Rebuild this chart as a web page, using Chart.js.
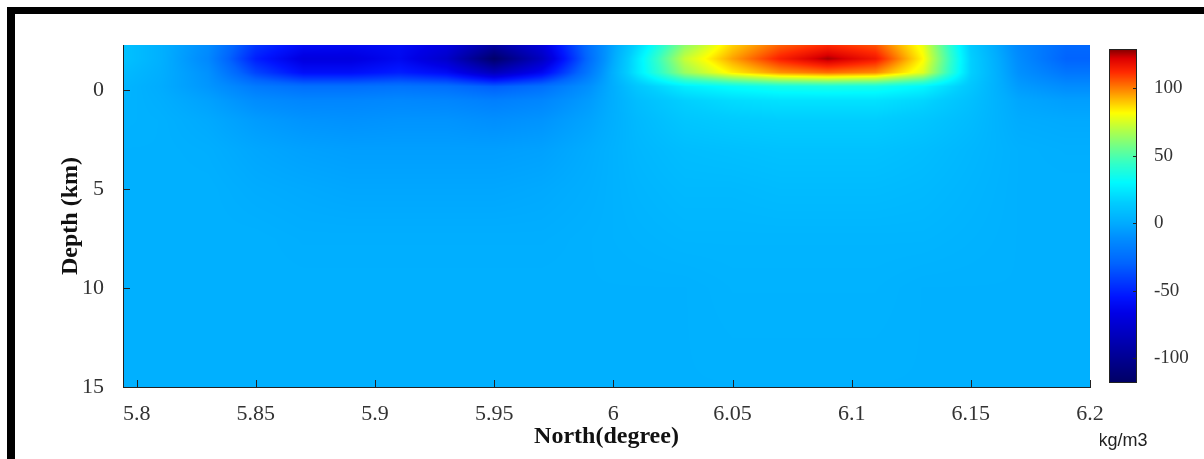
<!DOCTYPE html>
<html>
<head>
<meta charset="utf-8">
<script src="https://cdn.jsdelivr.net/npm/chart.js@4.4.1/dist/chart.umd.min.js"></script>
<style>
  html, body { margin: 0; padding: 0; background: #fff; }
  #wrap { position: relative; width: 1204px; height: 459px; overflow: hidden; }
  #frameTop { position: absolute; left: 7px; top: 7px; width: 1197px; height: 7px; background: #000; }
  #frameLeft { position: absolute; left: 7px; top: 7px; width: 8px; height: 452px; background: #000; }
  #main { position: absolute; left: 0; top: 0; }
  #cbar { position: absolute; left: 1100px; top: 0; }
</style>
</head>
<body>
<div id="wrap">
  <div id="frameTop"></div>
  <div id="frameLeft"></div>
  <canvas id="main" width="1204" height="459"></canvas>
  <canvas id="cbar" width="104" height="459"></canvas>
</div>
<script>
// grid nodes (degree north) and depth rows (km)
const north = [5.79, 5.81, 5.83, 5.85, 5.87, 5.89, 5.91, 5.93, 5.95, 5.97, 5.99,
               6.01, 6.03, 6.05, 6.07, 6.09, 6.11, 6.13, 6.15, 6.17, 6.19, 6.21];
const depth = [-2.3, -1.6, -0.9, -0.2, 0.5, 1.5, 3, 5, 7.5, 10, 15];

// density contrast, kg/m3, one row per depth
const density = [
  [12, 2, -12, -45, -60, -62, -60, -70, -95, -72, -24, 18, 62, 88, 104, 112, 106, 78, 14, -14, -28, -28],
  [12, 2, -14, -52, -70, -70, -62, -78, -116, -82, -26, 24, 72, 95, 114, 126, 116, 82, 16, -12, -30, -30],
  [8, 1, -10, -40, -58, -58, -52, -60, -84, -62, -20, 24, 64, 84, 97, 102, 98, 76, 16, -10, -22, -22],
  [5, 0, -8, -20, -25, -25, -23, -25, -32, -25, -10, 12, 26, 32, 36, 37, 36, 29, 12, -6, -12, -12],
  [4, 1, -4, -12, -15, -15, -14, -15, -18, -15, -6, 8, 16, 20, 22, 22, 22, 18, 9, -2, -5, -5],
  [3, 2, -1, -6, -9, -10, -9, -9, -11, -9, -3, 6, 12, 14, 15, 15, 15, 12, 7, 0, -1, -1],
  [2, 2, 1, -2, -4, -5, -5, -5, -5, -4, 0, 5, 8, 9, 10, 10, 10, 8, 5, 2, 1, 1],
  [2, 2, 2, 0, -1, -2, -2, -2, -2, -1, 1, 4, 6, 6, 7, 7, 7, 6, 4, 2, 2, 2],
  [2, 2, 2, 2, 1, 1, 1, 1, 1, 1, 2, 3, 4, 4, 4, 4, 4, 4, 3, 2, 2, 2],
  [2, 2, 2, 2, 2, 2, 2, 2, 2, 2, 2, 2, 2, 3, 3, 3, 3, 2, 2, 2, 2, 2],
  [2, 2, 2, 2, 2, 2, 2, 2, 2, 2, 2, 2, 2, 2, 2, 2, 2, 2, 2, 2, 2, 2]
];

const xTicks = [5.8, 5.85, 5.9, 5.95, 6, 6.05, 6.1, 6.15, 6.2];
const yTicks = [0, 5, 10, 15];
const cbTicks = [-100, -50, 0, 50, 100];
const cbRange = [-118.5, 128.9];
const unitLabel = 'kg/m3';

// jet-like colour ramp
const stops = [
  [-118.5, 0, 0, 100], [-95, 0, 0, 160], [-67, 0, 0, 230], [-55, 0, 20, 255],
  [-30, 0, 100, 255], [-10, 0, 145, 255], [0, 0, 172, 255], [15, 0, 205, 255],
  [30, 0, 250, 255], [44, 50, 255, 200], [56, 110, 255, 140], [69, 180, 255, 70],
  [81.5, 255, 255, 0], [91, 255, 190, 0], [100, 255, 125, 0], [112, 255, 40, 0],
  [122, 220, 0, 0], [128.9, 128, 0, 0]
];

function jet(v) {
  if (v <= stops[0][0]) return stops[0].slice(1);
  for (let i = 0; i < stops.length - 1; i++) {
    const a = stops[i], b = stops[i + 1];
    if (v <= b[0]) {
      const t = (v - a[0]) / (b[0] - a[0]);
      return [a[1] + (b[1] - a[1]) * t, a[2] + (b[2] - a[2]) * t, a[3] + (b[3] - a[3]) * t];
    }
  }
  return stops[stops.length - 1].slice(1);
}

function findCell(arr, v) {
  if (v <= arr[0]) return [0, 0];
  for (let i = 0; i < arr.length - 1; i++) {
    if (v <= arr[i + 1]) return [i, (v - arr[i]) / (arr[i + 1] - arr[i])];
  }
  return [arr.length - 2, 1];
}

function fieldAt(x, d) {
  const [i, tx] = findCell(north, x);
  const [j, ty] = findCell(depth, d);
  const a = density[j][i], b = density[j][i + 1];
  const c = density[j + 1][i], e = density[j + 1][i + 1];
  return (a * (1 - tx) + b * tx) * (1 - ty) + (c * (1 - tx) + e * tx) * ty;
}

const serif = "'Liberation Serif', 'Times New Roman', serif";

const fieldPlugin = {
  id: 'field',
  beforeDatasetsDraw(chart) {
    const { ctx, chartArea: a, scales: { x, y } } = chart;
    const w = Math.round(a.right - a.left), h = Math.round(a.bottom - a.top);
    const off = document.createElement('canvas');
    off.width = w; off.height = h;
    const octx = off.getContext('2d');
    const img = octx.createImageData(w, h);
    for (let py = 0; py < h; py++) {
      const d = y.getValueForPixel(a.top + py + 0.5);
      for (let px = 0; px < w; px++) {
        const c = jet(fieldAt(x.getValueForPixel(a.left + px + 0.5), d));
        const k = (py * w + px) * 4;
        img.data[k] = c[0]; img.data[k + 1] = c[1]; img.data[k + 2] = c[2]; img.data[k + 3] = 255;
      }
    }
    octx.putImageData(img, 0, 0);
    ctx.drawImage(off, a.left, a.top);
  },
  afterDraw(chart) {
    const { ctx, chartArea: a, scales: { x, y } } = chart;
    ctx.save();
    ctx.strokeStyle = '#222';
    ctx.lineWidth = 1;
    ctx.beginPath();
    yTicks.forEach(v => {
      const py = Math.round(y.getPixelForValue(v)) + 0.5;
      ctx.moveTo(a.left, py); ctx.lineTo(a.left + 7, py);
    });
    xTicks.forEach(v => {
      const px = Math.round(x.getPixelForValue(v)) + 0.5;
      ctx.moveTo(px, a.bottom); ctx.lineTo(px, a.bottom - 7);
    });
    ctx.stroke();
    ctx.restore();
  }
};

new Chart(document.getElementById('main'), {
  type: 'scatter',
  data: { datasets: [] },
  options: {
    responsive: false,
    animation: false,
    devicePixelRatio: 1,
    layout: { padding: { left: 0, top: 45, right: 114, bottom: 0 } },
    plugins: { legend: { display: false }, tooltip: { enabled: false } },
    scales: {
      x: {
        type: 'linear', position: 'bottom', min: 5.79426, max: 6.2,
        grid: { display: false },
        border: { display: true, color: '#222', width: 1, z: 1 },
        afterBuildTicks(s) { s.ticks = xTicks.map(v => ({ value: v })); },
        ticks: {
          font: { family: serif, size: 22 }, color: '#333', padding: 6,
          maxRotation: 0, autoSkip: false,
          callback: v => String(+(+v).toFixed(2))
        },
        title: {
          display: true, text: 'North(degree)',
          font: { family: serif, size: 24, weight: 'bold' }, color: '#111',
          padding: { top: 0, bottom: 8 }
        },
        afterFit(s) { s.height = 72; }
      },
      y: {
        type: 'linear', position: 'left', reverse: true, min: -2.3, max: 15,
        grid: { display: false },
        border: { display: true, color: '#222', width: 1, z: 1 },
        afterBuildTicks(s) { s.ticks = yTicks.map(v => ({ value: v })); },
        ticks: {
          font: { family: serif, size: 22 }, color: '#333', padding: 11,
          callback: v => String(v)
        },
        title: {
          display: true, text: 'Depth (km)',
          font: { family: serif, size: 24, weight: 'bold' }, color: '#111',
          padding: { top: 56, bottom: 0 }
        },
        afterFit(s) { s.width = 123; }
      }
    }
  },
  plugins: [fieldPlugin]
});

const cbarPlugin = {
  id: 'cbarFill',
  beforeDatasetsDraw(chart) {
    const { ctx, chartArea: a, scales: { y } } = chart;
    for (let py = Math.round(a.top); py < Math.round(a.bottom); py++) {
      const c = jet(y.getValueForPixel(py + 0.5));
      ctx.fillStyle = `rgb(${c[0] | 0},${c[1] | 0},${c[2] | 0})`;
      ctx.fillRect(a.left, py, a.right - a.left, 1);
    }
  },
  afterDraw(chart) {
    const { ctx, chartArea: a, scales: { y } } = chart;
    ctx.save();
    ctx.strokeStyle = '#222';
    ctx.lineWidth = 1;
    ctx.strokeRect(Math.round(a.left) + 0.5, Math.round(a.top) + 0.5,
                   Math.round(a.right - a.left) - 1, Math.round(a.bottom - a.top) - 1);
    ctx.beginPath();
    cbTicks.forEach(v => {
      const py = Math.round(y.getPixelForValue(v)) + 0.5;
      ctx.moveTo(a.right, py); ctx.lineTo(a.right - 4, py);
    });
    ctx.stroke();
    // unit label under the colour bar
    ctx.fillStyle = '#222';
    ctx.font = "18px 'Liberation Sans', Arial, sans-serif";
    ctx.textAlign = 'center';
    ctx.textBaseline = 'middle';
    ctx.fillText(unitLabel, (a.left + a.right) / 2, 441);
    ctx.restore();
  }
};

new Chart(document.getElementById('cbar'), {
  type: 'scatter',
  data: { datasets: [] },
  options: {
    responsive: false,
    animation: false,
    devicePixelRatio: 1,
    layout: { padding: { left: 9, top: 49, right: 0, bottom: 0 } },
    plugins: { legend: { display: false }, tooltip: { enabled: false } },
    scales: {
      x: {
        type: 'linear', position: 'bottom', min: 0, max: 1,
        grid: { display: false }, border: { display: false },
        ticks: { display: false },
        afterFit(s) { s.height = 76; }
      },
      y: {
        type: 'linear', position: 'right', min: cbRange[0], max: cbRange[1],
        grid: { display: false }, border: { display: false },
        afterBuildTicks(s) { s.ticks = cbTicks.map(v => ({ value: v })); },
        ticks: { font: { family: serif, size: 19 }, color: '#333', padding: 9, callback: v => String(v) },
        afterFit(s) { s.width = 67; }
      }
    }
  },
  plugins: [cbarPlugin]
});
</script>
</body>
</html>
